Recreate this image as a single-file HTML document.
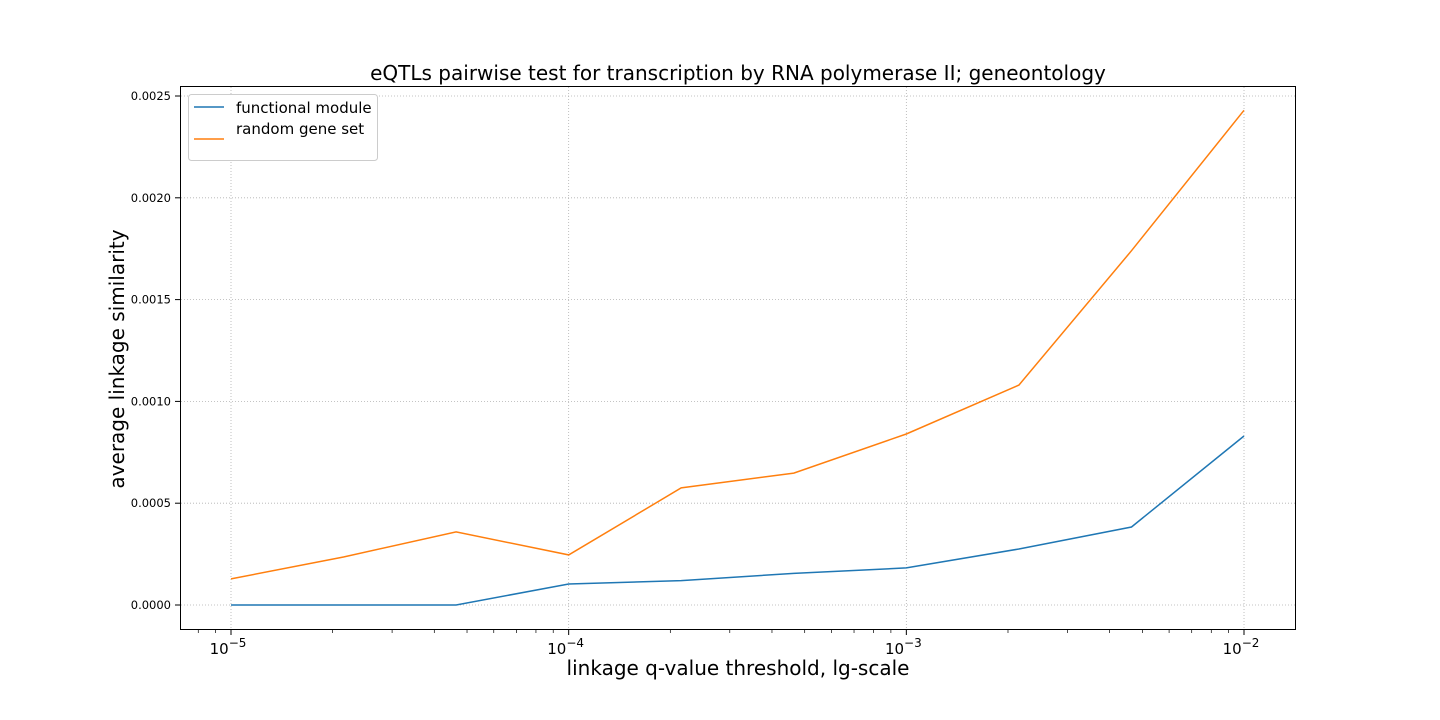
<!DOCTYPE html>
<html><head><meta charset="utf-8"><style>
html,body{margin:0;padding:0;background:#fff;}
svg{display:block;font-family:"DejaVu Sans","Liberation Sans",sans-serif;}
</style></head><body>
<svg id="chart" width="1440" height="720" xmlns="http://www.w3.org/2000/svg">
<text x="738" y="80" text-anchor="middle" font-size="20" fill="#000">eQTLs pairwise test for transcription by RNA polymerase II; geneontology</text>
<text x="738" y="675" text-anchor="middle" font-size="20" fill="#000">linkage q-value threshold, lg-scale</text>
<text transform="translate(124,359) rotate(-90)" text-anchor="middle" font-size="20" fill="#000">average linkage similarity</text>
<g id="grid"></g><g id="ticks"></g><g id="series"></g>
<rect x="180.5" y="86.5" width="1115" height="543" fill="none" stroke="#000" stroke-width="1"/>
<g>
<rect x="188.5" y="94.5" width="189" height="66" rx="3" fill="#fff" stroke="#ccc"/>
<line x1="194" y1="107" x2="224" y2="107" stroke="#1f77b4" stroke-width="1.5"/>
<text x="236" y="113" font-size="15">functional module</text>
<line x1="194" y1="139" x2="224" y2="139" stroke="#ff7f0e" stroke-width="1.5"/>
<text x="236" y="134" font-size="15">random gene set</text>
</g>
</svg>
<script>
const xValues=[1e-5,2.154e-5,4.642e-5,1e-4,2.154e-4,4.642e-4,1e-3,2.154e-3,4.642e-3,1e-2];
const functionalModule=[0,0,0,0.000103,0.000120,0.000155,0.000182,0.000275,0.000383,0.00083];
const randomGeneSet=[0.000128,0.000236,0.000359,0.000246,0.000575,0.000648,0.00084,0.00108,0.00174,0.00243];
const xTickExps=[-5,-4,-3,-2];
const yTicks=[0,0.0005,0.0010,0.0015,0.0020,0.0025];
const yTickLabels=["0.0000","0.0005","0.0010","0.0015","0.0020","0.0025"];
const NS="http://www.w3.org/2000/svg";
function xs(v){return 231+(Math.log10(v)+5)*337.67;}
function ys(v){return 605-v*203600;}
function mk(tag,attrs,parent){const e=document.createElementNS(NS,tag);for(const k in attrs)e.setAttribute(k,attrs[k]);document.getElementById(parent).appendChild(e);return e;}
xTickExps.forEach(p=>{const x=xs(Math.pow(10,p));
 const g=mk('line',{x1:x,y1:87,x2:x,y2:629,stroke:'#b0b0b0','stroke-dasharray':'1,2','stroke-width':0.8},'grid');
 
 
 mk('line',{x1:x,y1:630,x2:x,y2:635,stroke:'#000'},'ticks');
 const t=mk('text',{x:x-3,y:654,'text-anchor':'middle','font-size':15},'ticks');
 
 
 t.innerHTML='10<tspan dy="-7" font-size="12">\u2212'+(-p)+'</tspan>';
});
for(let p=-6;p<=-2;p++){for(let m=2;m<=9;m++){const v=m*Math.pow(10,p);const x=xs(v);if(x<181||x>1295)continue;
 mk('line',{x1:x,y1:630,x2:x,y2:633,stroke:'#000','stroke-width':0.7},'ticks');}}
yTicks.forEach((v,i)=>{const y=ys(v);
 const g=mk('line',{x1:181,y1:y,x2:1295,y2:y,stroke:'#b0b0b0','stroke-dasharray':'1,2','stroke-width':0.8},'grid');
 
 
 mk('line',{x1:175,y1:y,x2:180,y2:y,stroke:'#000'},'ticks');
 const t=mk('text',{x:171,y:y+4,'text-anchor':'end','font-size':11.5},'ticks');
 
 
 t.textContent=yTickLabels[i];
});
function line(vals,color,name){const d=vals.map((v,i)=>(i?'L':'M')+xs(xValues[i]).toFixed(1)+','+ys(v).toFixed(1)).join(' ');
 const p=mk('path',{d:d,fill:'none',stroke:color,'stroke-width':1.5},'series');
 
 }
line(functionalModule,'#1f77b4','functional-module-line');
line(randomGeneSet,'#ff7f0e','random-gene-set-line');
</script>
</body></html>
